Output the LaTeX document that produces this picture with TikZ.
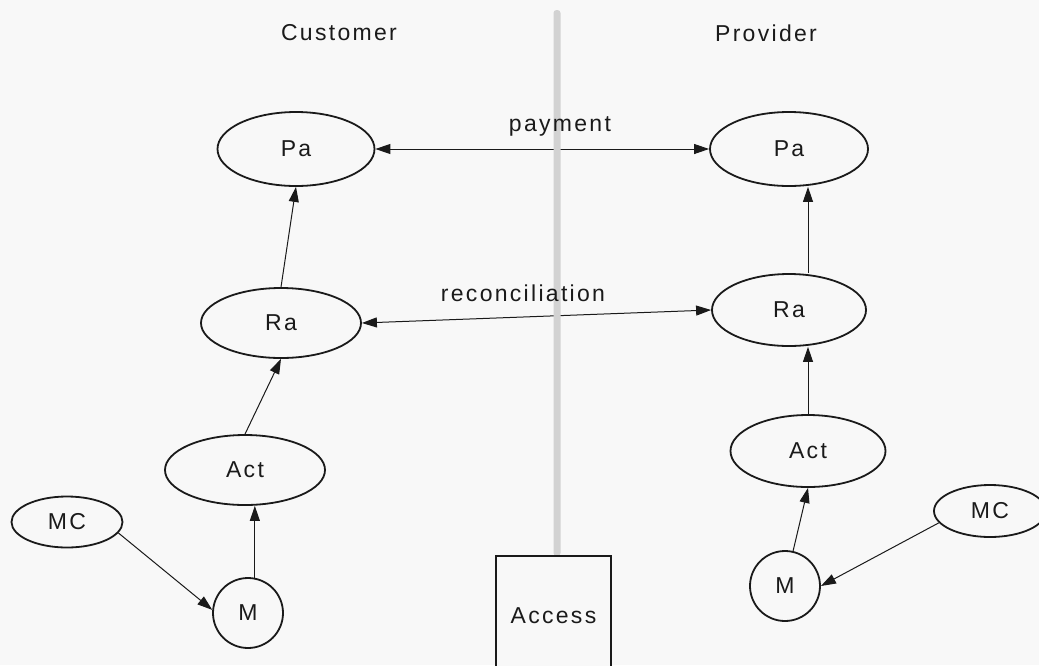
\documentclass[tikz,border=0pt]{standalone}
\usepackage{fontspec}
\setmainfont{Liberation Sans}[LetterSpace=10]
\usetikzlibrary{shapes.geometric,arrows.meta}
\definecolor{bgcol}{HTML}{F8F8F8}
\definecolor{barcol}{HTML}{D2D2D2}
\definecolor{inkcol}{HTML}{1A1A1A}
\begin{document}
\begin{tikzpicture}[x=1pt,y=-1pt,
  every node/.style={font=\fontsize{23}{27}\selectfont, text=inkcol},
  oval/.style={draw=inkcol, ellipse, line width=1.8pt, inner sep=0pt},
  circ/.style={draw=inkcol, circle, line width=1.8pt, inner sep=0pt, minimum size=70pt},
  arr/.style={draw=inkcol, -{Triangle[length=15pt,width=10pt]}, line width=1pt},
  biarr/.style={draw=inkcol, {Triangle[length=15pt,width=10pt]}-{Triangle[length=15pt,width=10pt]}, line width=1pt},
  lbl/.style={inner sep=0pt},
  accbox/.style={draw=inkcol, line width=1.5pt, minimum width=115pt, minimum height=120pt, inner sep=0pt}
]
\path[fill=bgcol, use as bounding box] (0,0) rectangle (1039,665);

% nodes
\node[oval, minimum width=157pt, minimum height=74pt] (PaL) at (296,149) {Pa};
\node[oval, minimum width=158pt, minimum height=74pt] (PaR) at (789,149) {Pa};
\node[oval, minimum width=160pt, minimum height=70pt] (RaL) at (281,323) {Ra};
\node[oval, minimum width=154pt, minimum height=72pt] (RaR) at (789,310) {Ra};
\node[oval, minimum width=160pt, minimum height=70pt] (ActL) at (245,470) {Act};
\node[oval, minimum width=155pt, minimum height=72pt] (ActR) at (808,451) {Act};
\node[oval, minimum width=111pt, minimum height=51pt] (MCL) at (67,522) {MC};
\node[oval, minimum width=112pt, minimum height=52pt] (MCR) at (990,511) {MC};
\node[circ] (ML) at (248,613) {M};
\node[circ] (MR) at (785,586) {M};

% connectors
\draw[biarr] (PaL) -- (PaR);
\draw[biarr] (RaL.east) -- (RaR.west);
\draw[arr] (RaL.north) -- (PaL.south);
\draw[arr] (ActL.north) -- (RaL.south);
\draw[arr] (ML.79) -- (ML.79 |- ActL.south);
\draw[arr] (MCL.-12) -- (ML.175);
\draw[arr] (ActR.north |- RaR.north) -- (ActR.north |- PaR.south);
\draw[arr] (ActR.north) -- (ActR.north |- RaR.south);
\draw[arr] (MR.77) -- (ActR.south);
\draw[arr] (MCR.193) -- (MR.0);

% separator bar
\fill[barcol, rounded corners=3pt] (553.5,10) rectangle (560.5,556);

% labels
\node[lbl] (cust) at (339,33) {Customer};
\node[lbl] (prov) at (766,33) {Provider};
\node[lbl] (pay) at (560,126) {payment};
\node[lbl] (rec) at (523,293) {reconciliation};
\node[accbox, fill=bgcol] (acc) at (553.5,616) {Access};
\end{tikzpicture}
\end{document}
